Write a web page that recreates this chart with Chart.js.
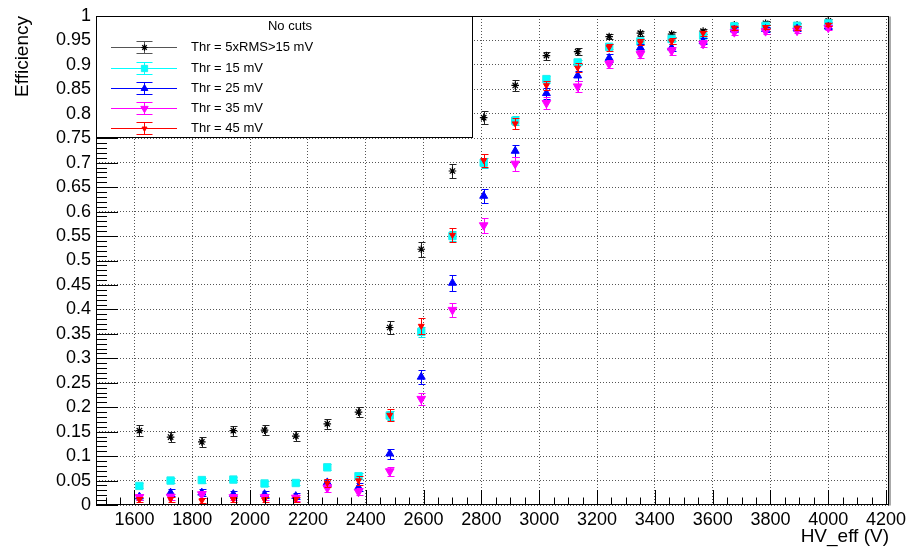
<!DOCTYPE html>
<html><head><meta charset="utf-8">
<script src="https://cdn.jsdelivr.net/npm/chart.js@4.4.1/dist/chart.umd.min.js"></script>
<style>html,body{margin:0;padding:0;background:#fff}#wrap{width:912px;height:549px}</style>
</head><body><div id="wrap"><canvas id="c" width="912" height="549"></canvas></div>
<script>
// ---------- data ----------
const hvEff = [1617,1725,1833,1942,2050,2158,2267,2375,2483,2592,2700,2808,2917,3025,3133,3242,3350,3458,3567,3675,3783,3892,4000];

const effRMS = [0.152,0.139,0.129,0.152,0.153,0.141,0.166,0.190,0.363,0.523,0.683,0.792,0.858,0.919,0.927,0.958,0.965,0.963,0.969,0.982,0.985,0.982,0.990];
const errRMS = [0.011,0.010,0.010,0.010,0.010,0.010,0.010,0.011,0.014,0.015,0.015,0.013,0.011,0.008,0.007,0.005,0.005,0.005,0.005,0.004,0.004,0.004,0.003];

const eff15 = [0.039,0.050,0.051,0.052,0.044,0.045,0.077,0.059,0.183,0.354,0.550,0.700,0.786,0.871,0.905,0.937,0.948,0.953,0.960,0.979,0.980,0.980,0.985];
const err15 = [0.005,0.005,0.005,0.005,0.005,0.005,0.006,0.006,0.010,0.011,0.011,0.010,0.009,0.007,0.006,0.005,0.005,0.005,0.004,0.003,0.003,0.003,0.003];

const eff25 = [0.017,0.025,0.025,0.022,0.022,0.018,0.046,0.036,0.105,0.262,0.454,0.632,0.724,0.842,0.878,0.914,0.935,0.935,0.948,0.972,0.973,0.974,0.978];
const err25 = [0.006,0.007,0.007,0.007,0.007,0.006,0.008,0.008,0.010,0.014,0.016,0.015,0.013,0.011,0.010,0.009,0.007,0.007,0.006,0.005,0.005,0.005,0.004];

const eff35 = [0.016,0.017,0.022,0.016,0.016,0.015,0.035,0.027,0.069,0.217,0.399,0.572,0.698,0.822,0.856,0.902,0.922,0.929,0.943,0.967,0.969,0.970,0.976];
const err35 = [0.006,0.006,0.007,0.006,0.006,0.006,0.008,0.007,0.009,0.013,0.015,0.015,0.014,0.012,0.011,0.009,0.008,0.008,0.007,0.005,0.005,0.005,0.004];

const eff45 = [0.011,0.012,0.009,0.012,0.011,0.012,0.045,0.050,0.184,0.366,0.552,0.705,0.780,0.858,0.894,0.936,0.946,0.948,0.965,0.976,0.977,0.976,0.982];
const err45 = [0.005,0.005,0.005,0.005,0.005,0.005,0.009,0.009,0.013,0.016,0.015,0.013,0.012,0.010,0.009,0.007,0.006,0.006,0.005,0.004,0.004,0.004,0.003];

const seriesNames = ['Thr = 5xRMS>15 mV','Thr = 15 mV','Thr = 25 mV','Thr = 35 mV','Thr = 45 mV'];
const legendTitle = 'No cuts';

const xTickValues = [1600,1800,2000,2200,2400,2600,2800,3000,3200,3400,3600,3800,4000,4200];
const xTickLabels = ['1600','1800','2000','2200','2400','2600','2800','3000','3200','3400','3600','3800','4000','4200'];
const yTickValues = [0,0.05,0.1,0.15,0.2,0.25,0.3,0.35,0.4,0.45,0.5,0.55,0.6,0.65,0.7,0.75,0.8,0.85,0.9,0.95,1];
const yTickLabels = ['0','0.05','0.1','0.15','0.2','0.25','0.3','0.35','0.4','0.45','0.5','0.55','0.6','0.65','0.7','0.75','0.8','0.85','0.9','0.95','1'];

const xTitle = 'HV_eff (V)';
const yTitle = 'Efficiency';

// ---------- build ----------
const toPts = (ys) => hvEff.map((x, i) => ({x: x, y: ys[i]}));
const FONT = "'Liberation Sans', Arial, Helvetica, sans-serif";

const datasets = [
  {label: seriesNames[0], data: toPts(effRMS), errors: errRMS, errorColor: '#222', lineColor: '#555',
   pointStyle: 'star', pointRadius: 3.8, pointBorderWidth: 1.2, pointBorderColor: '#000', pointBackgroundColor: '#000', order: 5},
  {label: seriesNames[1], data: toPts(eff15), errors: err15, errorColor: '#00e5e5', lineColor: '#00ffff',
   pointStyle: 'rect', pointRadius: 5.2, pointBorderWidth: 1, pointBorderColor: '#22eeee', pointBackgroundColor: '#00ffff', order: 4},
  {label: seriesNames[2], data: toPts(eff25), errors: err25, errorColor: '#0000ff', lineColor: '#0000ff',
   pointStyle: 'triangle', pointRadius: 4.6, pointBorderWidth: 1, pointBorderColor: '#0000ff', pointBackgroundColor: '#0000ff', order: 3},
  {label: seriesNames[3], data: toPts(eff35), errors: err35, errorColor: '#ff00ff', lineColor: '#ff00ff',
   pointStyle: 'triangle', pointRotation: 180, pointRadius: 5, pointBorderWidth: 1, pointBorderColor: '#ff00ff', pointBackgroundColor: '#ff00ff', order: 2},
  {label: seriesNames[4], data: toPts(eff45), errors: err45, errorColor: '#ff0000', lineColor: '#ff0000',
   pointStyle: 'triangle', pointRotation: 180, pointRadius: 3.4, pointBorderWidth: 1, pointBorderColor: '#ff0000', pointBackgroundColor: '#ff0000', order: 1}
];

const rootPlugin = {
  id: 'rootStyle',
  beforeDatasetDraw(chart, args) {
    const ds = chart.data.datasets[args.index];
    const xs = chart.scales.x, ys = chart.scales.y, ctx = chart.ctx;
    ctx.save();
    ctx.strokeStyle = ds.errorColor; ctx.lineWidth = 1;
    ctx.beginPath();
    ds.data.forEach((p, i) => {
      const e = ds.errors[i];
      const px = Math.round(xs.getPixelForValue(p.x)) + 0.5;
      const y1 = Math.round(ys.getPixelForValue(p.y - e)) + 0.5;
      const y2 = Math.round(ys.getPixelForValue(p.y + e)) + 0.5;
      ctx.moveTo(px, y1); ctx.lineTo(px, y2);
      ctx.moveTo(px - 3, y1); ctx.lineTo(px + 4, y1);
      ctx.moveTo(px - 3, y2); ctx.lineTo(px + 4, y2);
    });
    ctx.stroke();
    ctx.restore();
  },
  afterDraw(chart) {
    const {ctx, chartArea: a} = chart;
    const xs = chart.scales.x, ys = chart.scales.y;
    ctx.save();
    // inner tick marks
    ctx.strokeStyle = '#000'; ctx.lineWidth = 1;
    ctx.beginPath();
    for (let v = 1500; v <= 4200; v += 50) {
      if (v < xs.min || v > xs.max) continue;
      const px = Math.round(xs.getPixelForValue(v)) + 0.5;
      const len = (v % 200 === 0) ? 15 : 7.5;
      ctx.moveTo(px, a.bottom); ctx.lineTo(px, a.bottom - len);
    }
    for (let k = 0; k <= 100; k++) {
      const py = Math.round(ys.getPixelForValue(k / 100)) + 0.5;
      const len = (k % 5 === 0) ? 22 : 11;
      ctx.moveTo(a.left, py); ctx.lineTo(a.left + len, py);
    }
    ctx.stroke();
    // frame
    const L = Math.round(a.left) + 0.5, R = Math.round(a.right) - 0.5;
    const T = Math.round(a.top) + 0.5, B = Math.round(a.bottom) - 0.5;
    ctx.strokeStyle = '#000';
    ctx.strokeRect(L, T, R - L, B - T);
    ctx.strokeStyle = '#aaa'; ctx.lineWidth = 2;
    ctx.beginPath(); ctx.moveTo(R + 1.5, T); ctx.lineTo(R + 1.5, B + 1); ctx.stroke();

    // legend box
    const lx0 = L, ly0 = T, lx1 = 472.5, ly1 = 137.5;
    ctx.fillStyle = '#fff';
    ctx.fillRect(lx0, ly0, lx1 - lx0, ly1 - ly0);
    ctx.strokeStyle = '#000'; ctx.lineWidth = 1;
    ctx.strokeRect(lx0, ly0, lx1 - lx0, ly1 - ly0);
    ctx.fillStyle = '#000';
    ctx.font = '13px ' + FONT;
    ctx.textAlign = 'center'; ctx.textBaseline = 'middle';
    ctx.fillText(legendTitle, 290, 26.5);
    const rows = [47, 67.5, 88, 108, 128];
    chart.data.datasets.forEach((ds, i) => {
      const ry = Math.round(rows[i]) + 0.5;
      const mx = 144.5;
      ctx.strokeStyle = ds.lineColor; ctx.lineWidth = 1;
      ctx.beginPath();
      ctx.moveTo(111, ry); ctx.lineTo(177, ry);
      ctx.moveTo(mx, ry - 6); ctx.lineTo(mx, ry + 6);
      ctx.moveTo(mx - 8, ry - 6); ctx.lineTo(mx + 8, ry - 6);
      ctx.moveTo(mx - 8, ry + 6); ctx.lineTo(mx + 8, ry + 6);
      ctx.stroke();
      ctx.fillStyle = ds.pointBackgroundColor; ctx.strokeStyle = ds.pointBorderColor;
      ctx.lineWidth = ds.pointBorderWidth;
      if (Chart.helpers && Chart.helpers.drawPoint) {
        Chart.helpers.drawPoint(ctx, {pointStyle: ds.pointStyle, radius: ds.pointRadius * 0.85,
          rotation: ds.pointRotation || 0, borderWidth: ds.pointBorderWidth}, mx, ry);
      }
      ctx.fillStyle = '#000';
      ctx.font = '13px ' + FONT;
      ctx.textAlign = 'left'; ctx.textBaseline = 'middle';
      ctx.fillText(ds.label, 191, ry);
    });
    ctx.restore();
  }
};

new Chart(document.getElementById('c'), {
  type: 'scatter',
  data: {datasets: datasets},
  options: {
    responsive: false, animation: false, devicePixelRatio: 1,
    layout: {padding: {top: 16, right: 23, bottom: 0, left: 0}},
    plugins: {legend: {display: false}, tooltip: {enabled: false}},
    elements: {line: {borderWidth: 0}},
    scales: {
      x: {
        type: 'linear', min: 1467, max: 4210,
        afterBuildTicks: (s) => { s.ticks = xTickValues.map(v => ({value: v})); },
        afterFit: (s) => { s.height = 44; },
        ticks: {autoSkip: false, maxRotation: 0, padding: 4, color: '#000',
          font: {family: FONT, size: 18},
          callback: (v) => { const i = xTickValues.indexOf(v); return i >= 0 ? xTickLabels[i] : ''; }},
        grid: {color: '#555', lineWidth: 1, drawTicks: false},
        border: {display: false, dash: [1, 2]},
        title: {display: true, text: xTitle, align: 'end', color: '#000',
          font: {family: FONT, size: 19}, padding: {top: 0, bottom: 1}}
      },
      y: {
        type: 'linear', min: 0, max: 1,
        afterBuildTicks: (s) => { s.ticks = yTickValues.map(v => ({value: v})); },
        afterFit: (s) => { s.width = 96; },
        ticks: {autoSkip: false, padding: 5, color: '#000',
          font: {family: FONT, size: 18},
          callback: (v) => { const i = yTickValues.indexOf(v); return i >= 0 ? yTickLabels[i] : ''; }},
        grid: {color: '#555', lineWidth: 1, drawTicks: false},
        border: {display: false, dash: [1, 2]},
        title: {display: true, text: yTitle, align: 'end', color: '#000',
          font: {family: FONT, size: 19}, padding: {top: 11, bottom: 0}}
      }
    }
  },
  plugins: [rootPlugin]
});
</script>
</body></html>
